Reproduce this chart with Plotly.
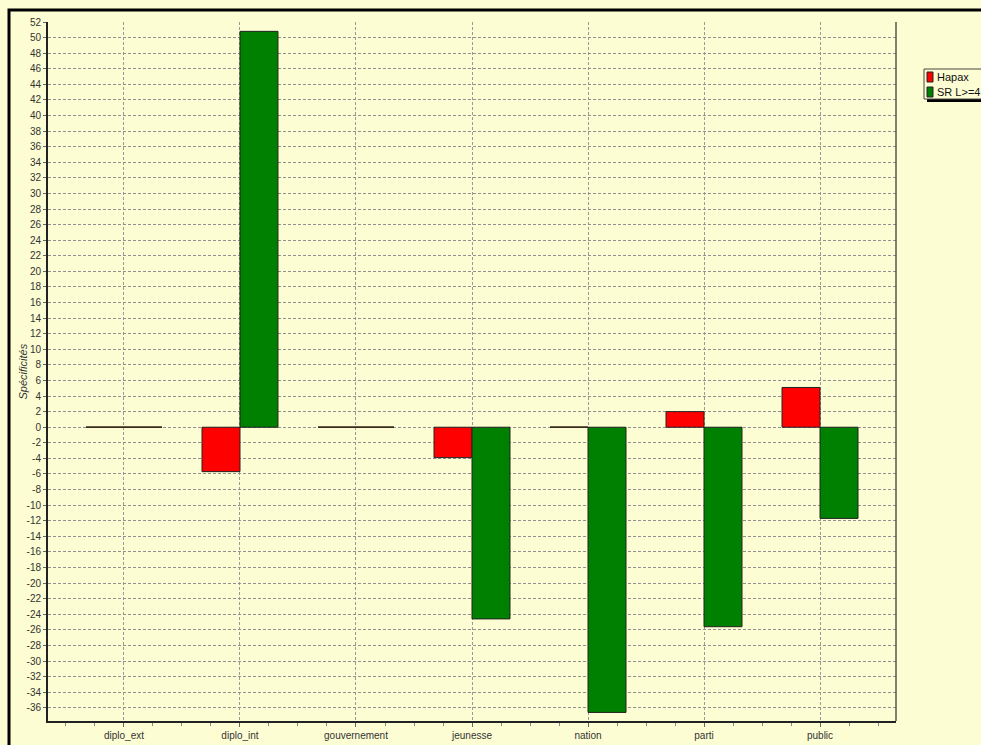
import plotly.graph_objects as go

categories = ["diplo_ext", "diplo_int", "gouvernement", "jeunesse", "nation", "parti", "public"]
hapax = [0, -5.7, 0, -3.9, 0, 2.0, 5.1]
sr_l4 = [0, 50.8, 0, -24.6, -36.6, -25.6, -11.7]
series_names = ["Hapax", "SR L>=4"]
y_ticks = list(range(-36, 53, 2))

BG = "#FDFDD3"
RED = "#FF0000"
GREEN = "#008000"

W, H = 981, 745
L, R, T, B = 48, 85, 22, 24
PW, PH = W - L - R, H - T - B

def px(x):
    return (x - L) / PW

def py(y):
    return 1 - (y - T) / PH

xpos = list(range(len(categories)))

fig = go.Figure()
for name, vals, col in [(series_names[0], hapax, RED), (series_names[1], sr_l4, GREEN)]:
    fig.add_trace(go.Bar(
        x=xpos, y=vals, name=name, marker=dict(color=col, line=dict(color="#222222", width=1)),
        showlegend=False,
    ))

# zero-valued bars drawn as thin lines (plotly hides zero-height bars)
group_w = 1 - 0.345
bw = group_w / 2
for k, (vals, col) in enumerate([(hapax, RED), (sr_l4, GREEN)]):
    for i, v in enumerate(vals):
        if v == 0:
            x0 = i - group_w / 2 + k * bw
            fig.add_shape(type="line", xref="x", yref="y", x0=x0, x1=x0 + bw, y0=0, y1=0,
                          line=dict(color="#3a2a1a", width=1.5), layer="above")

fig.update_layout(
    width=W, height=H,
    margin=dict(l=L, r=R, t=T, b=B),
    paper_bgcolor=BG, plot_bgcolor=BG,
    barmode="group", bargap=0.345, bargroupgap=0,
    font=dict(family="Liberation Sans, Arial, sans-serif", size=10, color="#333333"),
    showlegend=False,
)
fig.update_xaxes(
    automargin=False,
    range=[-0.655, len(categories) - 1 + 0.655],
    tickvals=xpos, ticktext=categories,
    showgrid=True, gridcolor="#9a9a9a", griddash="3px,2px", gridwidth=1,
    showline=True, linecolor="#222222", linewidth=2,
    ticks="outside", ticklen=4, tickcolor="#666666",
    minor=dict(dtick=0.25, tick0=0, ticks="outside", ticklen=3, tickcolor="#888888", showgrid=False),
    zeroline=False, tickfont=dict(size=10, color="#333333"),
)
fig.update_yaxes(
    automargin=False,
    range=[-37.7, 52],
    tickvals=y_ticks, ticktext=[str(v) for v in y_ticks],
    showgrid=True, gridcolor="#909090", griddash="3px,2px", gridwidth=1,
    showline=True, linecolor="#222222", linewidth=2,
    ticks="outside", ticklen=3, tickcolor="#666666",
    zeroline=False, tickfont=dict(size=10, color="#333333"),
)

# right border of plot area
fig.add_shape(type="line", xref="paper", yref="paper", x0=1, x1=1, y0=0, y1=1,
              line=dict(color="#555555", width=1.5))

# outer frame
fig.add_shape(type="rect", xref="paper", yref="paper", x0=px(9), x1=px(1200), y0=py(1000), y1=py(10),
              line=dict(color="black", width=3), layer="above")

# y-axis title
fig.add_annotation(text="<i>Spécificités</i>", xref="paper", yref="paper", x=px(22), y=0.5,
                   textangle=-90, showarrow=False, font=dict(size=11, color="#333333"),
                   xanchor="center", yanchor="middle")

# custom legend
fig.add_shape(type="rect", xref="paper", yref="paper", x0=px(927), x1=px(1100), y0=py(102), y1=py(72),
              line=dict(width=0), fillcolor="black")
fig.add_shape(type="rect", xref="paper", yref="paper", x0=px(924), x1=px(1100), y0=py(99), y1=py(69),
              line=dict(color="#444444", width=1), fillcolor=BG)
for j, (name, col) in enumerate(zip(series_names, [RED, GREEN])):
    yc = 77 + j * 15
    fig.add_shape(type="rect", xref="paper", yref="paper", x0=px(927), x1=px(933), y0=py(yc + 5), y1=py(yc - 5),
                  line=dict(color="#222222", width=1), fillcolor=col)
    fig.add_annotation(text=name, xref="paper", yref="paper", x=px(936), y=py(yc), showarrow=False,
                       xanchor="left", yanchor="middle", borderpad=0,
                       font=dict(size=11, color="#111111"))

fig.write_html("out.html", config={"displayModeBar": False},
               post_script="document.body.style.margin='0';document.body.style.overflow='hidden';")
